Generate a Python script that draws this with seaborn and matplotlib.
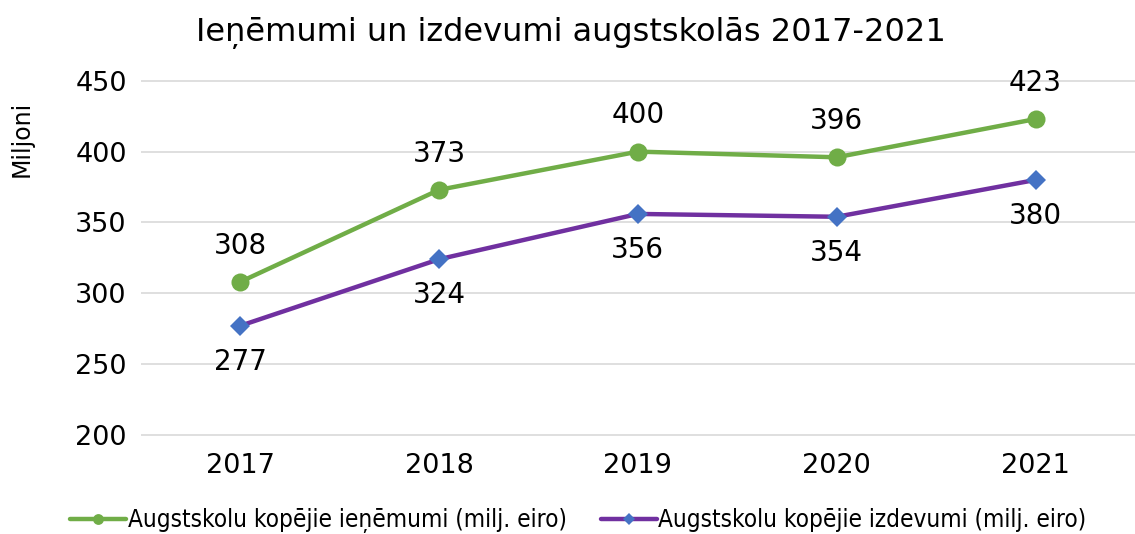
import numpy as np
import pandas as pd
import seaborn as sns
import matplotlib.pyplot as plt

years = ['2017', '2018', '2019', '2020', '2021']
ienemumi = [308, 373, 400, 396, 423]
izdevumi = [277, 324, 356, 354, 380]
name_ien = 'Augstskolu kopējie ieņēmumi (milj. eiro)'
name_izd = 'Augstskolu kopējie izdevumi (milj. eiro)'

sns.set_theme(style='white')
plt.rcParams['font.family'] = ['DejaVu Sans']
plt.rcParams['text.color'] = 'black'
plt.rcParams['axes.labelcolor'] = 'black'
plt.rcParams['xtick.color'] = 'black'
plt.rcParams['ytick.color'] = 'black'

df = pd.DataFrame({'gads': years, name_ien: ienemumi, name_izd: izdevumi})
x = np.arange(len(years))

fig = plt.figure(figsize=(11.35, 5.34), dpi=100)
ax = fig.add_axes([0.124, 0.183, 0.876, 0.667])

sns.lineplot(x=x, y=df[name_ien], ax=ax, color='#70AD47', linewidth=3.2,
             marker='o', markersize=13, markeredgewidth=0, label=name_ien)
sns.lineplot(x=x, y=df[name_izd], ax=ax, color='#7030A0', linewidth=3.2,
             marker='D', markersize=10, markerfacecolor='#4472C4',
             markeredgewidth=0, label=name_izd)

for xi, v in zip(x, ienemumi):
    ax.annotate(str(v), (xi, v), xytext=(0, 16), textcoords='offset points',
                ha='center', va='bottom', fontsize=20)
for xi, v in zip(x, izdevumi):
    ax.annotate(str(v), (xi, v), xytext=(0, -16), textcoords='offset points',
                ha='center', va='top', fontsize=20)

ax.set_xlim(-0.5, 4.5)
ax.set_ylim(199, 450.5)
ax.set_yticks(range(200, 451, 50))
ax.set_xticks(x)
ax.set_xticklabels(years)
ax.tick_params(axis='both', labelsize=19.5, length=0)
ax.tick_params(axis='x', pad=12)
ax.tick_params(axis='y', pad=10)
ax.grid(axis='y', color='#D9D9D9', linewidth=1.2)
for s in ax.spines.values():
    s.set_visible(False)
ax.set_xlabel('')
ax.set_ylabel('Miljoni', fontsize=17)
ax.yaxis.set_label_coords(-0.108, 0.835)

fig.suptitle('Ieņēmumi un izdevumi augstskolās 2017-2021', fontsize=23, y=0.968, x=0.503)

leg = ax.legend(loc='upper center', bbox_to_anchor=(0.44, -0.14), ncol=2,
                frameon=False, handlelength=2.3, handletextpad=0.05, columnspacing=1.4,
                markerscale=0.6, prop={'size': 17.5, 'stretch': 'condensed'})

fig.savefig('out.png', dpi=100)
